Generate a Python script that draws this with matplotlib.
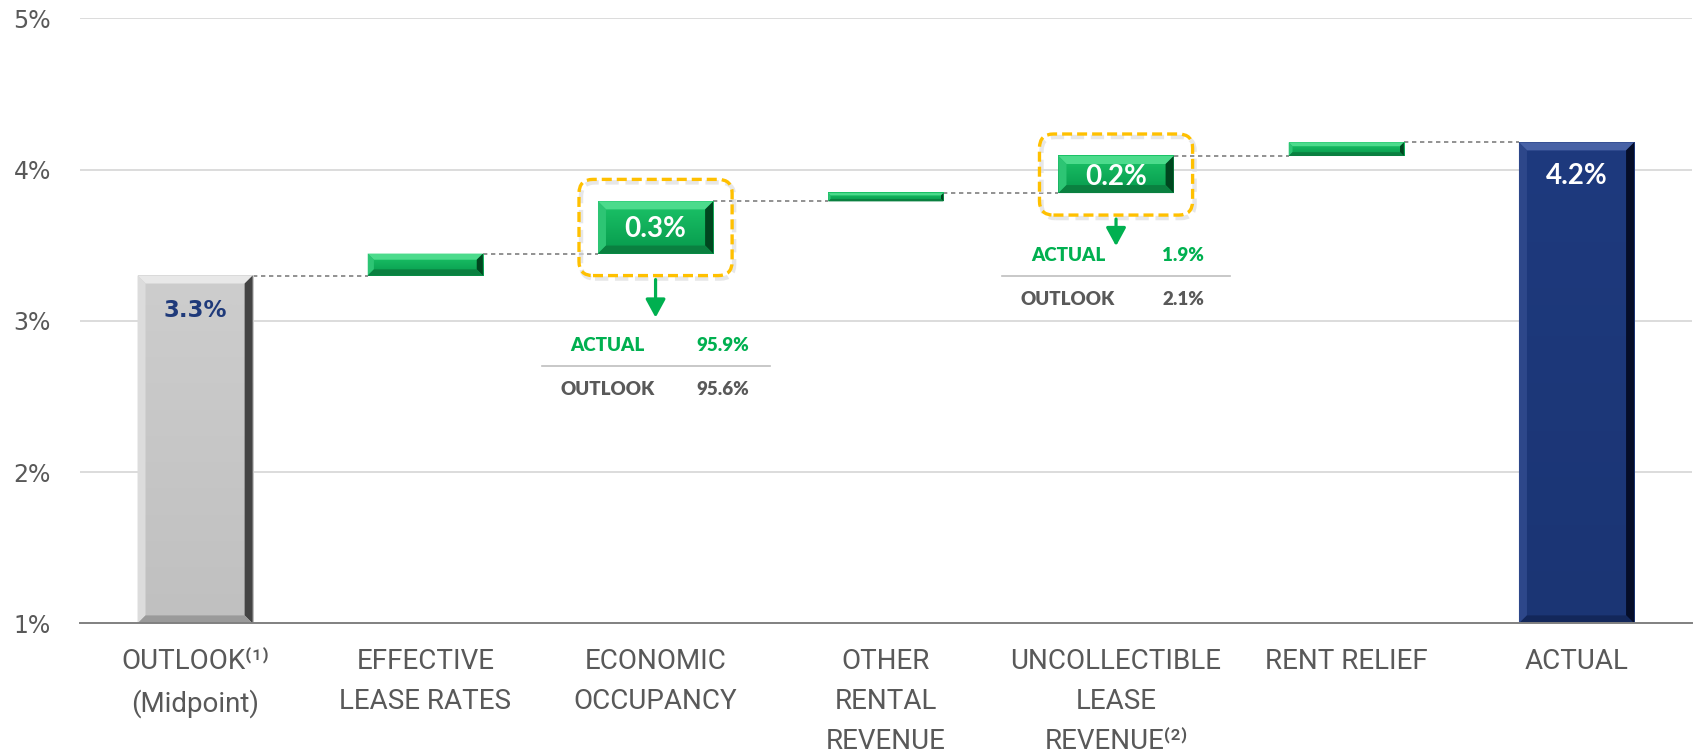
import matplotlib
matplotlib.use("Agg")
import numpy as np
import matplotlib.pyplot as plt
from matplotlib.patches import Polygon, FancyBboxPatch
from matplotlib.colors import LinearSegmentedColormap
from matplotlib import font_manager

# ---------------- data ----------------
categories = ["OUTLOOK⁽¹⁾\n(Midpoint)", "EFFECTIVE\nLEASE RATES", "ECONOMIC\nOCCUPANCY",
              "OTHER\nRENTAL\nREVENUE", "UNCOLLECTIBLE\nLEASE\nREVENUE⁽²⁾", "RENT RELIEF", "ACTUAL"]
outlook_value = 3.30
deltas = [0.145, 0.345, 0.055, 0.245, 0.09]
actual_value = 4.18
bar_labels = ["3.3%", "", "0.3%", "", "0.2%", "", "4.2%"]
highlighted = [2, 4]
detail_row_names = ["ACTUAL", "OUTLOOK"]
detail_actual = ["95.9%", "1.9%"]
detail_outlook = ["95.6%", "2.1%"]
yticks = [1, 2, 3, 4, 5]
ytick_labels = ["1%", "2%", "3%", "4%", "5%"]
y_base = 1.0

# ---------------- style ----------------
names = {f.name for f in font_manager.fontManager.ttflist}
NARROW = "Liberation Sans Narrow" if "Liberation Sans Narrow" in names else "Roboto"
CAT_FONT = [NARROW, "DejaVu Sans"]
LABEL_FONT = ["Lato", "DejaVu Sans"]
GRAY_TXT = "#595959"
GREEN = "#00B050"
GOLD = "#FFC000"

W_PX, H_PX = 1694, 756
fig = plt.figure(figsize=(W_PX / 100, H_PX / 100), dpi=100)
AX_L, AX_B, AX_W, AX_H = 0.0472, 0.1754, 0.9514, 0.8003
ax = fig.add_axes([AX_L, AX_B, AX_W, AX_H])
XLIM = (-0.5, 6.5)
YLIM = (1, 5)
DX = (XLIM[1] - XLIM[0]) / (AX_W * W_PX)   # data units per pixel
DY = (YLIM[1] - YLIM[0]) / (AX_H * H_PX)

BAR_W = 0.5

schemes = {
    "gray": dict(face=("#CDCDCD", "#C0C0C0"), top="#E8E8E8", left="#DCDCDC", right="#444444", bottom="#9A9A9A"),
    "navy": dict(face=("#1E3A7E", "#1B3574"), top="#4862A6", left="#2D478A", right="#050D28", bottom="#13275A"),
    "green": dict(face=("#1CC468", "#06994C"), top="#4CDB8C", left="#2DC574", right="#00461F", bottom="#0A8040"),
}


def bevel_bar(xc, y0, y1, scheme, b_px=8, z=3):
    s = schemes[scheme]
    x0, x1 = xc - BAR_W / 2, xc + BAR_W / 2
    h_px = (y1 - y0) / DY
    b = min(b_px, h_px * 0.28)
    bx, by = b * DX, b * DY
    cmap = LinearSegmentedColormap.from_list("f", [s["face"][1], s["face"][0]])
    grad = np.linspace(0, 1, 64).reshape(-1, 1)
    ax.imshow(grad, extent=[x0, x1, y0, y1], origin="lower", aspect="auto",
              cmap=cmap, zorder=z, interpolation="bilinear")
    polys = [
        ([(x0, y1), (x1, y1), (x1 - bx, y1 - by), (x0 + bx, y1 - by)], s["top"]),
        ([(x0, y0), (x0, y1), (x0 + bx, y1 - by), (x0 + bx, y0 + by)], s["left"]),
        ([(x1, y0), (x1, y1), (x1 - bx, y1 - by), (x1 - bx, y0 + by)], s["right"]),
        ([(x0, y0), (x1, y0), (x1 - bx, y0 + by), (x0 + bx, y0 + by)], s["bottom"]),
    ]
    for pts, c in polys:
        ax.add_patch(Polygon(pts, closed=True, fc=c, ec="none", zorder=z + 0.1))


# ---------------- bars ----------------
cum = [outlook_value]
for d in deltas:
    cum.append(cum[-1] + d)

bottoms = [y_base] + cum[:-1] + [y_base]
tops = [outlook_value] + cum[1:] + [actual_value]
kinds = ["gray"] + ["green"] * len(deltas) + ["navy"]

for i in range(len(categories)):
    bevel_bar(i, bottoms[i], tops[i], kinds[i])

# connectors
for j in range(len(categories) - 1):
    lvl = cum[j]
    ax.plot([j + BAR_W / 2, j + 1 - BAR_W / 2], [lvl, lvl], color="#7F7F7F", lw=1.2,
            ls=(0, (2.6, 2.2)), zorder=2)

# value labels
for i, lab in enumerate(bar_labels):
    if not lab:
        continue
    if i in highlighted:
        yc = (bottoms[i] + tops[i]) / 2
        ax.text(i, yc - 10 * DY, lab, ha="center", va="baseline", color="white",
                fontsize=20, fontweight="bold", family=LABEL_FONT, zorder=7)
    elif kinds[i] == "gray":
        ax.text(i, tops[i] - 41 * DY, lab, ha="center", va="baseline", color="#1F3A7A",
                fontsize=16.5, fontweight="bold", family="DejaVu Sans", zorder=7)
    else:
        ax.text(i, tops[i] - 42 * DY, lab, ha="center", va="baseline", color="white",
                fontsize=20, fontweight="bold", family=LABEL_FONT, zorder=7)

# highlight boxes + detail tables
PAD_X, PAD_Y, RAD = 19, 22, 14
arrow_len_px = [38, 27]
table_gap_px = [27, 8]
for k, i in enumerate(highlighted):
    y0, y1 = bottoms[i], tops[i]
    bx0 = i - BAR_W / 2 - PAD_X * DX
    by0 = y0 - PAD_Y * DY
    bw = BAR_W + 2 * PAD_X * DX
    bh = (y1 - y0) + 2 * PAD_Y * DY
    asp = DY / DX
    shadow = FancyBboxPatch((bx0 + 2 * DX, by0 - 3 * DY), bw, bh,
                            boxstyle=f"round,pad=0,rounding_size={RAD * DX}",
                            mutation_aspect=asp, fill=False, ec="#DEDEDE", lw=3.2,
                            ls=(0, (3.0, 1.5)), zorder=4.5, alpha=0.7)
    ax.add_patch(shadow)
    box = FancyBboxPatch((bx0, by0), bw, bh,
                         boxstyle=f"round,pad=0,rounding_size={RAD * DX}",
                         mutation_aspect=asp, fill=False, ec=GOLD, lw=2.4,
                         ls=(0, (3.0, 1.5)), zorder=5)
    ax.add_patch(box)
    a_start = by0 - 4 * DY
    a_tip = a_start - arrow_len_px[k] * DY
    ax.annotate("", xy=(i, a_tip), xytext=(i, a_start),
                arrowprops=dict(arrowstyle="-|>,head_length=0.55,head_width=0.3",
                                color=GREEN, lw=2.3, mutation_scale=20,
                                shrinkA=0, shrinkB=0), zorder=6)
    r1 = a_tip - table_gap_px[k] * DY
    r2 = r1 - 44 * DY
    sep = r1 - 21.5 * DY
    cap = 6.5 * DY
    ax.plot([i - 114 * DX, i + 114 * DX], [sep, sep], color="#BFBFBF", lw=1.2, zorder=6)
    ax.text(i - 48 * DX, r1 - cap, detail_row_names[0], ha="center", va="baseline",
            color=GREEN, fontsize=13.5, fontweight="heavy", family=LABEL_FONT, zorder=7)
    ax.text(i + 67 * DX, r1 - cap, detail_actual[k], ha="center", va="baseline",
            color=GREEN, fontsize=13.5, fontweight="heavy", family=LABEL_FONT, zorder=7)
    ax.text(i - 48 * DX, r2 - cap, detail_row_names[1], ha="center", va="baseline",
            color=GRAY_TXT, fontsize=13.5, fontweight="heavy", family=LABEL_FONT, zorder=7)
    ax.text(i + 67 * DX, r2 - cap, detail_outlook[k], ha="center", va="baseline",
            color=GRAY_TXT, fontsize=13.5, fontweight="heavy", family=LABEL_FONT, zorder=7)

# ---------------- axes ----------------
ax.set_xlim(*XLIM)
ax.set_ylim(*YLIM)
ax.set_yticks(yticks)
ax.set_yticklabels(ytick_labels, fontsize=17, color=GRAY_TXT, family="DejaVu Sans")
ax.tick_params(axis="y", length=0, pad=21)
ax.set_xticks(range(len(categories)))
ax.set_xticklabels(categories, fontsize=20, color=GRAY_TXT, family=CAT_FONT, linespacing=1.62)
ax.tick_params(axis="x", length=0, pad=18)
for y in yticks[1:]:
    ax.axhline(y, color="#D9D9D9", lw=1.3, zorder=0)
for s in ["top", "right", "left"]:
    ax.spines[s].set_visible(False)
ax.spines["bottom"].set_color("#808080")
ax.spines["bottom"].set_linewidth(1.4)
ax.spines["bottom"].set_zorder(8)

fig.savefig("out.png", dpi=100)
